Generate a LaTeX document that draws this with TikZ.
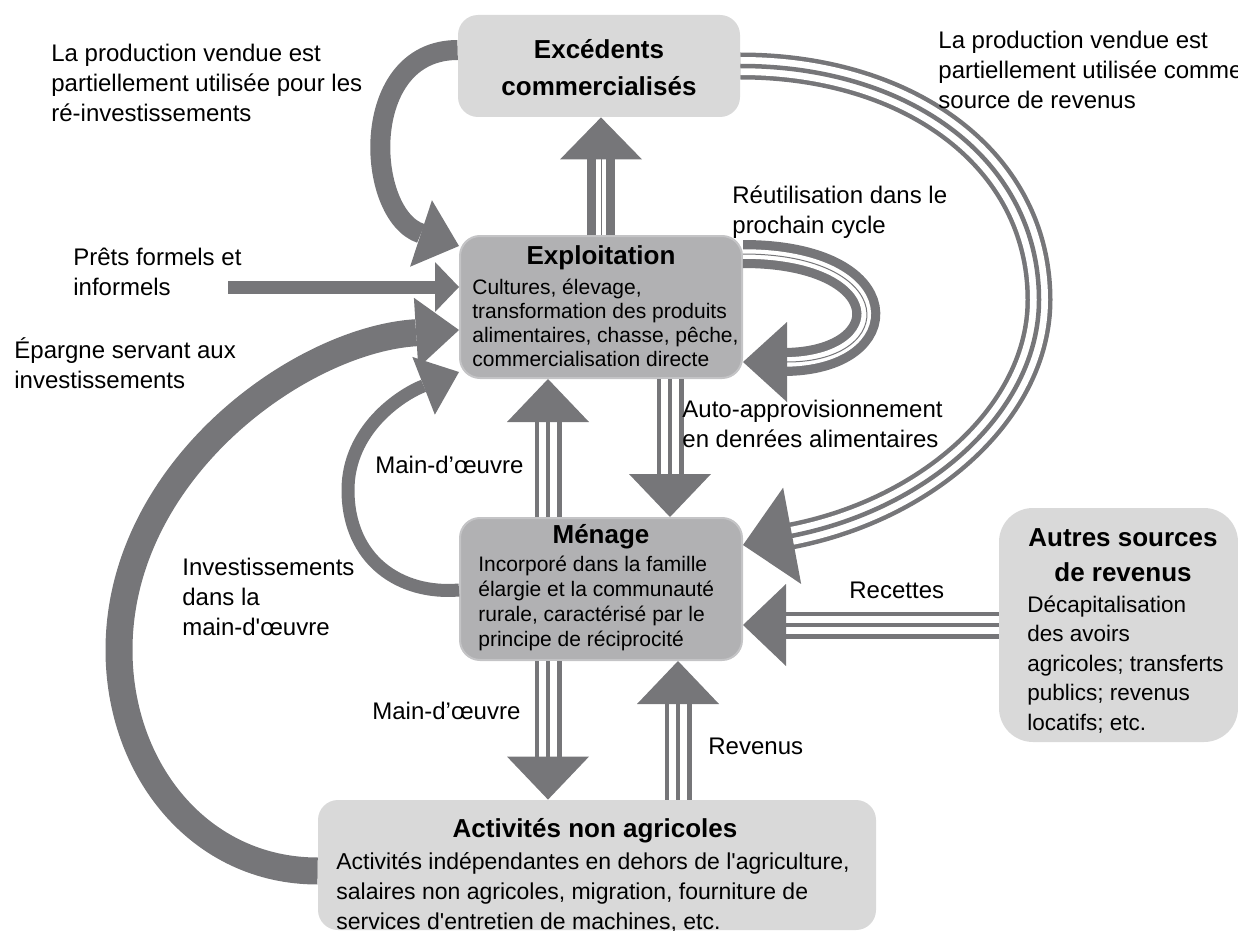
\documentclass[tikz,border=0pt]{standalone}
\usepackage{fontspec}
\setmainfont{Liberation Sans}
\usetikzlibrary{arrows.meta}
\definecolor{flowgray}{RGB}{118,118,121}
\definecolor{paleshade}{RGB}{217,217,217}
\definecolor{midshade}{RGB}{177,177,179}
\definecolor{rimshade}{RGB}{196,196,198}

\begin{document}
\begin{tikzpicture}[x=0.5pt,y=-0.5pt]
\tikzset{pale/.style = {shape=rectangle, fill=paleshade, rounded corners=10pt, inner sep=0pt}}
\tikzset{core/.style = {shape=rectangle, fill=midshade, draw=rimshade, line width=1pt, rounded corners=10pt, inner sep=0pt, minimum width=141pt, minimum height=71pt}}
\tikzset{heading/.style = {font=\fontsize{13}{18.5}\selectfont\bfseries, align=center, inner sep=0pt, anchor=base}}
\tikzset{body/.style = {align=left, inner sep=0pt, anchor=base west}}
\tikzset{note/.style = {font=\fontsize{12}{15}\selectfont, align=left, inner sep=0pt, anchor=base west}}
\tikzset{flow/.style = {draw=flowgray, line width=#1}}
\tikzset{tipto/.style 2 args = {-{Triangle[length=#1 0 0, width=#2 0 0, line width=0pt 0 0]}}}
\tikzset{trio/.style = {draw=white, line width=9pt, shorten >=#1, preaction={draw=flowgray, line width=13.5pt}, postaction={draw=flowgray, line width=2.25pt}}}
\tikzset{duo/.style = {draw=white, line width=4.75pt, shorten >=#1, preaction={draw=flowgray, line width=14pt}}}
\tikzset{headed/.style 2 args = {postaction={draw=flowgray, line width=0.5pt, shorten >=0pt, tipto={#1}{#2}}}}
\useasboundingbox (0,0) rectangle (1238,931);
% boxes
\node[pale, minimum width=141pt, minimum height=51pt] (exc) at (599,66) {};
\node[core] (expl) at (601,307) {};
\node[core] (men) at (601,589) {};
\node[pale, minimum width=279pt, minimum height=65pt] (act) at (597,865) {};
\node[pale, minimum width=119.5pt, minimum height=117pt, rounded corners=17pt] (aut) at (1118.5,625) {};
\coordinate (labcol) at (548,0);
\coordinate (foodcol) at (670,0);
\coordinate (paycol) at (678,0);
\coordinate (loan) at (228,287);
% box texts (base = last line)
\node[heading] (exc-t) at (599,96) {Excédents\\commercialisés};
\node[heading] (expl-t) at (601,264) {Exploitation};
\node[body, font=\fontsize{10.5}{12}\selectfont] (expl-b) at (472,366) {Cultures, élevage,\\transformation des produits\\alimentaires, chasse, pêche,\\commercialisation directe};
\node[heading] (men-t) at (601,543) {Ménage};
\node[body, font=\fontsize{10.5}{12.5}\selectfont] (men-b) at (478,646) {Incorporé dans la famille\\élargie et la communauté\\rurale, caractérisé par le\\principe de réciprocité};
\node[heading] (act-t) at (595,837) {Activités non agricoles};
\node[body, font=\fontsize{11.5}{15}\selectfont] (act-b) at (336,929) {Activités indépendantes en dehors de l\textquotesingle agriculture,\\salaires non agricoles, migration, fourniture de\\services d\textquotesingle entretien de machines, etc.};
\node[heading, font=\fontsize{13}{17.5}\selectfont\bfseries] (aut-t) at (1123,581) {Autres sources\\de revenus};
\node[body, font=\fontsize{11.25}{14.75}\selectfont] (aut-b) at (1027,730) {Décapitalisation\\des avoirs\\agricoles; transferts\\publics; revenus\\locatifs; etc.};
% flows
\draw[duo=19pt, headed={21pt}{41pt}] (expl.north) -- (expl.north |- exc.south);
\draw[trio=19pt, headed={21.5pt}{41pt}] (labcol |- men.north) -- (labcol |- expl.south);
\draw[trio=19pt, headed={21.5pt}{41pt}] (foodcol |- expl.south) -- (foodcol |- men.north);
\draw[trio=19pt, headed={21.5pt}{41pt}] (labcol |- men.south) -- (labcol |- act.north);
\draw[trio=19pt, headed={21.5pt}{41pt}] (paycol |- act.north) -- (paycol |- men.south);
\draw[trio=19pt, headed={21.5pt}{41pt}] (aut.west) -- (aut.west -| men.east);
\draw[duo=20pt, headed={22pt}{40pt}] ([yshift=26.5pt]expl.east) .. controls +(157,0) and +(157,0) .. ([yshift=-27.5pt]expl.east);
\draw[trio=23pt, headed={25pt}{49pt}] (exc.east) .. controls (910,66) and (1039,160) .. (1039,300) .. controls (1039,410) and (930,510) .. ([yshift=22pt]men.east);
\draw[flow=10pt, tipto={20pt}{35pt}] ([yshift=8pt]exc.west) .. controls +(-100,0) and (365,215) .. ([yshift=30.5pt]expl.west);
\draw[flow=6.5pt, tipto={12pt}{25pt}] (loan) -- (loan -| expl.west);
\draw[flow=13.5pt, tipto={21.5pt}{35pt}] ([yshift=-3pt]act.west) .. controls (200,871) and (119,770) .. (119,650) .. controls (119,470) and (300,340) .. ([yshift=-11.5pt]expl.west);
\draw[flow=6.5pt, tipto={19pt}{31pt}] ([yshift=-0.5pt]men.west) .. controls (400,595) and (348,560) .. (348,490) .. controls (348,430) and (400,395) .. ([yshift=-32.5pt]expl.west);
% labels (base = last line)
\node[note] (resale) at (51,122) {La production vendue est\\partiellement utilisée pour les\\ré-investissements};
\node[note] (income) at (938,109) {La production vendue est\\partiellement utilisée comme\\source de revenus};
\node[note] (reuse) at (732,234) {Réutilisation dans le\\prochain cycle};
\node[note] (loans) at (73,295) {Prêts formels et\\informels};
\node[note] (savings) at (14,388) {Épargne servant aux\\investissements};
\node[note] (invest) at (182,635) {Investissements\\dans la\\main-d\textquotesingle œuvre};
\node[note] (labup) at (375,473) {Main-d’œuvre};
\node[note] (labdown) at (372,719) {Main-d’œuvre};
\node[note] (selfsup) at (682,447) {Auto-approvisionnement\\en denrées alimentaires};
\node[note] (receipts) at (849,598) {Recettes};
\node[note] (revenue) at (708,754) {Revenus};
\end{tikzpicture}
\end{document}
